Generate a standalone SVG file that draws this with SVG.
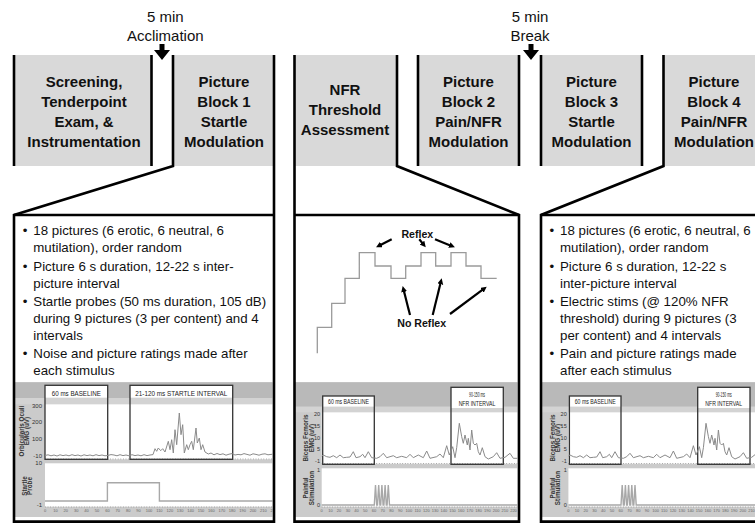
<svg xmlns="http://www.w3.org/2000/svg" xmlns:xlink="http://www.w3.org/1999/xlink" width="755" height="523" viewBox="0 0 755 523">
  <style>
    text { font-family: "Liberation Sans", Arial, sans-serif; fill: #111; }
    .hdr { font-size: 15px; text-anchor: middle; }
    .blk { font-size: 15px; font-weight: bold; text-anchor: middle; }
    .body { font-size: 13.3px; }
    .lbl { font-size: 10.6px; font-weight: bold; text-anchor: middle; }
    .block-fill { fill: #d9d9d9; }
    .bar { stroke: #000; stroke-width: 2.6; fill: none; }
    .frame { stroke: #000; stroke-width: 2.6; fill: none; stroke-linejoin: miter; }
    .stair { stroke: #9a9a9a; stroke-width: 1.3; fill: none; }
    .arr { stroke: #000; stroke-width: 2.2; fill: none; marker-end: url(#ah); }
    .bg { fill: #cbcbcb; }
    .band { fill: #b9b9b9; }
    .strip { fill: #d3d3d3; }
    .plot { fill: #fff; }
    .win { fill: none; stroke: #333; stroke-width: 1.3; }
    .wintop { fill: #fff; }
    .trace { fill: none; stroke: #8a8a8a; stroke-width: 1; stroke-linejoin: round; }
    .probe { fill: none; stroke: #a8a8a8; stroke-width: 1.4; }
    .ticks { stroke: #999; stroke-width: 1.2; stroke-dasharray: 0.8 1.8; }
    .ax { font-size: 6px; text-anchor: end; fill: #333; }
    .axs { font-size: 5.5px; text-anchor: end; fill: #333; }
    .yl { font-size: 6.3px; font-weight: bold; text-anchor: middle; fill: #333; }
    .xt { font-size: 4px; text-anchor: middle; fill: #666; }
    .wl { font-size: 6.5px; text-anchor: middle; fill: #222; }
  </style>
  <defs>
    <marker id="ah" markerUnits="userSpaceOnUse" markerWidth="7" markerHeight="7" refX="1" refY="3" orient="auto">
      <path d="M0,0 L6,3 L0,6 z" fill="#000"/>
    </marker>
    <clipPath id="clipL"><rect x="15" y="375" width="257.5" height="146"/></clipPath>
    <clipPath id="clipM"><rect x="295" y="375" width="222.5" height="146"/></clipPath>

    <!-- EMG / stimulation trace shared by the two pain panels -->
    <g id="nfrChart">
      <rect class="bg" x="295" y="382" width="223" height="135"/>
      <rect class="band" x="295" y="382.5" width="223" height="24.2"/>
      <rect class="strip" x="295" y="406.7" width="223" height="5.6"/>
      <rect class="plot" x="321.7" y="412.3" width="196" height="51.5"/>
      <rect class="plot" x="321.7" y="468.3" width="196" height="38.4"/>
      <line class="ticks" x1="321.7" y1="463.5" x2="517.5" y2="463.5"/>
      <line class="ticks" x1="321.7" y1="507" x2="517.5" y2="507"/>
      <!-- windows -->
      <rect class="wintop" x="322.7" y="396" width="51.6" height="10.7"/>
      <rect class="win" x="322.7" y="396" width="51.6" height="68.3"/>
      <text class="wl" x="348.5" y="404.4" textLength="41" lengthAdjust="spacingAndGlyphs">60 ms BASELINE</text>
      <rect class="wintop" x="451" y="387.3" width="52.3" height="20.7"/>
      <rect class="win" x="451" y="387.3" width="52.3" height="77"/>
      <text class="wl" x="477" y="397.2" textLength="16" lengthAdjust="spacingAndGlyphs">90-150 ms</text>
      <text class="wl" x="477" y="406.4" textLength="36.7" lengthAdjust="spacingAndGlyphs">NFR INTERVAL</text>
      <!-- axis labels -->
      <g transform="translate(308,438) rotate(-90)">
        <text class="yl" x="0" y="0">Biceps Femoris</text>
        <text class="yl" x="0" y="5.5">EMG (uV)</text>
      </g>
      <g transform="translate(308,488) rotate(-90)">
        <text class="yl" x="0" y="0">Painful</text>
        <text class="yl" x="0" y="5.5">Stimulation</text>
      </g>
      <text class="axs" x="320" y="416.3">20</text>
      <text class="axs" x="320" y="428">15</text>
      <text class="axs" x="320" y="439.5">10</text>
      <text class="axs" x="320" y="451">5</text>
      <text class="axs" x="320" y="463">-1</text>
      <text class="axs" x="320" y="472">1</text>
      <text class="axs" x="320" y="507">0</text>
      <g>
        <text class="xt" x="321.7" y="512">0</text>
        <text class="xt" x="330.4" y="512">10</text>
        <text class="xt" x="339.1" y="512">20</text>
        <text class="xt" x="347.9" y="512">30</text>
        <text class="xt" x="356.6" y="512">40</text>
        <text class="xt" x="365.3" y="512">50</text>
        <text class="xt" x="374.0" y="512">60</text>
        <text class="xt" x="382.7" y="512">70</text>
        <text class="xt" x="391.5" y="512">80</text>
        <text class="xt" x="400.2" y="512">90</text>
        <text class="xt" x="408.9" y="512">100</text>
        <text class="xt" x="417.6" y="512">110</text>
        <text class="xt" x="426.3" y="512">120</text>
        <text class="xt" x="435.1" y="512">130</text>
        <text class="xt" x="443.8" y="512">140</text>
        <text class="xt" x="452.5" y="512">150</text>
        <text class="xt" x="461.2" y="512">160</text>
        <text class="xt" x="469.9" y="512">170</text>
        <text class="xt" x="478.7" y="512">180</text>
        <text class="xt" x="487.4" y="512">190</text>
        <text class="xt" x="496.1" y="512">200</text>
        <text class="xt" x="504.8" y="512">210</text>
        <text class="xt" x="513.5" y="512">220</text>
      </g>
      <!-- EMG response -->
      <polyline class="trace" points="321.7,456 323.3,455 326.7,456.7 330,457.3 333.3,455.7 336.7,457.7 340,455 343.3,457.7 346.7,457.3 350,457 353.3,451.7 356,457.7 360,456.7 362.7,454.3 365,457.7 368.3,451.7 371.7,457.7 376.7,458.3 380,456.7 383.3,453.3 386.7,457.7 393.3,455.7 396.7,457.7 401.7,456.3 406.7,457.7 410,454.3 413.3,457.7 418.3,455 423.3,457.7 426.7,451 430,458.3 436.7,456.7 440,454 443.3,457.7 446.7,445.7 449.3,455 452.7,446.7 455,457.7 456.7,447.7 459.3,423.3 461.7,436.7 463.3,443.3 465,435 467.3,445 468.3,438.3 470,450 471.7,430 473.3,443.3 475,445 476.7,443.3 478.3,451.7 480,455 482.3,447.7 485,456.7 488.3,459 493.3,456.7 496.7,452.7 500,458.3 505,457.3 510,453.3 513.3,458.3 517.5,458.3"/>
      <!-- stimulus train -->
      <path class="probe" d="M321.7,505 H374.3 L375.5,485 L376.7,505 H377.5 L378.7,485 L379.9,505 H380.7 L381.9,485 L383.1,505 H383.9 L385.1,485 L386.3,505 H387.1 L388.3,485 L389.5,505 H517.5"/>
    </g>
  </defs>

  <!-- timeline labels with arrows -->
  <g id="acclimation">
    <text class="hdr" x="165.3" y="21.7">5 min</text>
    <text class="hdr" x="165.3" y="41">Acclimation</text>
    <polygon points="159.5,44 164.5,44 164.5,50 170,50 162,60 154,50 159.5,50" fill="#000"/>
  </g>
  <g id="break">
    <text class="hdr" x="530" y="21.7">5 min</text>
    <text class="hdr" x="530" y="41">Break</text>
    <polygon points="528.5,44 533.5,44 533.5,50 539,50 531,60 523,50 528.5,50" fill="#000"/>
  </g>

  <!-- session blocks -->
  <g id="block-screening">
    <rect class="block-fill" x="14" y="55" width="137.5" height="111"/>
    <line class="bar" x1="14" y1="55" x2="14" y2="166"/>
    <line class="bar" x1="151.5" y1="55" x2="151.5" y2="166"/>
    <text class="blk" x="84" y="87">Screening,</text>
    <text class="blk" x="84" y="107">Tenderpoint</text>
    <text class="blk" x="84" y="127">Exam, &amp;</text>
    <text class="blk" x="84" y="147">Instrumentation</text>
  </g>
  <g id="block-picture1">
    <rect class="block-fill" x="173" y="55" width="101" height="111"/>
    <text class="blk" x="224" y="87">Picture</text>
    <text class="blk" x="224" y="107">Block 1</text>
    <text class="blk" x="224" y="127">Startle</text>
    <text class="blk" x="224" y="147">Modulation</text>
  </g>
  <g id="block-nfr">
    <rect class="block-fill" x="294.5" y="55" width="102.5" height="111"/>
    <text class="blk" x="345" y="95">NFR</text>
    <text class="blk" x="345" y="115">Threshold</text>
    <text class="blk" x="345" y="135">Assessment</text>
  </g>
  <g id="block-picture2">
    <rect class="block-fill" x="418" y="55" width="101" height="111"/>
    <line class="bar" x1="418" y1="55" x2="418" y2="166"/>
    <line class="bar" x1="519" y1="55" x2="519" y2="166"/>
    <text class="blk" x="468.5" y="87">Picture</text>
    <text class="blk" x="468.5" y="107">Block 2</text>
    <text class="blk" x="468.5" y="127">Pain/NFR</text>
    <text class="blk" x="468.5" y="147">Modulation</text>
  </g>
  <g id="block-picture3">
    <rect class="block-fill" x="541" y="55" width="101" height="111"/>
    <line class="bar" x1="541" y1="55" x2="541" y2="166"/>
    <line class="bar" x1="642" y1="55" x2="642" y2="166"/>
    <text class="blk" x="591.5" y="87">Picture</text>
    <text class="blk" x="591.5" y="107">Block 3</text>
    <text class="blk" x="591.5" y="127">Startle</text>
    <text class="blk" x="591.5" y="147">Modulation</text>
  </g>
  <g id="block-picture4">
    <rect class="block-fill" x="663.5" y="55" width="95" height="111"/>
    <text class="blk" x="714" y="87">Picture</text>
    <text class="blk" x="714" y="107">Block 4</text>
    <text class="blk" x="714" y="127">Pain/NFR</text>
    <text class="blk" x="714" y="147">Modulation</text>
  </g>

  <!-- detail panel: startle block -->
  <g id="panel-startle">
    <text class="body" x="22.7" y="234.5">•</text>
    <text class="body" x="33.3" y="234.5">18 pictures (6 erotic, 6 neutral, 6</text>
    <text class="body" x="33.3" y="251.5">mutilation), order random</text>
    <text class="body" x="22.7" y="270.5">•</text>
    <text class="body" x="33.3" y="270.5">Picture 6 s duration, 12-22 s inter-</text>
    <text class="body" x="33.3" y="287.5">picture interval</text>
    <text class="body" x="22.7" y="305.5">•</text>
    <text class="body" x="33.3" y="305.5">Startle probes (50 ms duration, 105 dB)</text>
    <text class="body" x="33.3" y="322.5">during 9 pictures (3 per content) and 4</text>
    <text class="body" x="33.3" y="339.5">intervals</text>
    <text class="body" x="22.7" y="357.5">•</text>
    <text class="body" x="33.3" y="357.5">Noise and picture ratings made after</text>
    <text class="body" x="33.3" y="374.5">each stimulus</text>

    <g clip-path="url(#clipL)">
      <rect class="bg" x="15" y="382" width="258" height="135"/>
      <rect class="band" x="15" y="382.5" width="258" height="15.5"/>
      <rect class="strip" x="15" y="398" width="258" height="6.3"/>
      <rect class="plot" x="45" y="404.3" width="228" height="55"/>
      <rect class="plot" x="45" y="463.3" width="228" height="43.4"/>
      <line class="ticks" x1="45" y1="459" x2="273" y2="459"/>
      <line class="ticks" x1="45" y1="507" x2="273" y2="507"/>
      <rect class="wintop" x="45" y="385.3" width="62.7" height="12.5"/>
      <rect class="win" x="45" y="385.3" width="62.7" height="74"/>
      <text class="wl" x="76.3" y="395.6" textLength="49" lengthAdjust="spacingAndGlyphs">60 ms BASELINE</text>
      <rect class="wintop" x="130" y="385.3" width="102.7" height="12.5"/>
      <rect class="win" x="130" y="385.3" width="102.7" height="74"/>
      <text class="wl" x="181.3" y="395.6" textLength="92" lengthAdjust="spacingAndGlyphs">21-120 ms STARTLE INTERVAL</text>
      <g transform="translate(24,431) rotate(-90)">
        <text class="yl" x="0" y="0">Orbicularis Oculi</text>
        <text class="yl" x="0" y="5">EMG (uV)</text>
      </g>
      <g transform="translate(26.5,486) rotate(-90)">
        <text class="yl" x="0" y="0">Startle</text>
        <text class="yl" x="0" y="5">Probe</text>
      </g>
      <text class="ax" x="42" y="408.2">300</text>
      <text class="ax" x="42" y="424">200</text>
      <text class="ax" x="42" y="440.6">100</text>
      <text class="ax" x="42" y="458.4">-10</text>
      <text class="ax" x="42" y="465.2">10</text>
      <text class="ax" x="42" y="507">-1</text>
      <g>
        <text class="xt" x="45" y="512">0</text>
        <text class="xt" x="55.4" y="512">10</text>
        <text class="xt" x="65.8" y="512">20</text>
        <text class="xt" x="76.2" y="512">30</text>
        <text class="xt" x="86.6" y="512">40</text>
        <text class="xt" x="97" y="512">50</text>
        <text class="xt" x="107.4" y="512">60</text>
        <text class="xt" x="117.8" y="512">70</text>
        <text class="xt" x="128.2" y="512">80</text>
        <text class="xt" x="138.6" y="512">90</text>
        <text class="xt" x="149" y="512">100</text>
        <text class="xt" x="159.4" y="512">110</text>
        <text class="xt" x="169.8" y="512">120</text>
        <text class="xt" x="180.2" y="512">130</text>
        <text class="xt" x="190.6" y="512">140</text>
        <text class="xt" x="201" y="512">150</text>
        <text class="xt" x="211.4" y="512">160</text>
        <text class="xt" x="221.8" y="512">170</text>
        <text class="xt" x="232.2" y="512">180</text>
        <text class="xt" x="242.6" y="512">190</text>
        <text class="xt" x="253" y="512">200</text>
        <text class="xt" x="263.4" y="512">210</text>
        <text class="xt" x="273.8" y="512">220</text>
      </g>
      <polyline class="trace" points="45,455.5 48,454.8 51,455.8 54,455 57,456 60,454.8 63,455.6 66,455 69,455.8 72,454.7 75,455.6 78,455 81,456 84,454.8 87,455.6 90,455 93,455.8 96,454.7 99,455.6 102,455 105,455.8 108,455.4 111,454.6 114,455 117,455.8 120,454.7 123,455.6 126,455 129,455.8 132,454.7 135,455.6 138,455 141,455.8 144,454.7 147,455.6 150,455 153,454.6 155,448.7 156.7,451.3 158.3,448 160.7,450.7 162.7,448.7 165,452 168.3,441.3 170,449.7 171.7,439.7 173.3,453 175,429.7 176.7,444.7 179.3,413 181,434.7 182.7,424.7 184.3,453 186.7,444.7 188.3,449.7 190,444.7 191.7,441.3 193.3,449.7 196,428 197.3,443 199.3,438 201,449.7 202.7,444.7 205,452 208.3,454 211,453 214,454.8 217,453.5 220,454.6 223,453.8 226,455.2 229,454.2 232,453.6 235,455 238,454.4 241,454.8 244,453.6 247,454.4 250,455.2 253,453.8 256,454.4 259,455.2 262,454.2 265,453.8 268,454.8 272.5,454.2"/>
      <path class="probe" d="M45,501 H107.4 V482.7 H159.4 V501 H273"/>
    </g>
  </g>

  <!-- detail panel: threshold assessment -->
  <g id="panel-threshold">
    <path class="stair" d="M317.3,353.3 V327.3 H331.7 V303.3 H345 V278.3 H359.3 V252.7 H375 V266 H391 V278.3 H405.7 V266 H421 V252.7 H435.7 V266 H451 V252.7 H466 V266 H481 V278.3 H496.7"/>
    <text class="lbl" x="417.3" y="238">Reflex</text>
    <text class="lbl" x="421.7" y="326.5">No Reflex</text>
    <line class="arr" x1="391.7" y1="239.3" x2="380.5" y2="245"/>
    <line class="arr" x1="419.3" y1="239.3" x2="422.6" y2="243.4"/>
    <line class="arr" x1="435" y1="239.3" x2="450.3" y2="245.4"/>
    <line class="arr" x1="410" y1="315" x2="403.9" y2="290.9"/>
    <line class="arr" x1="432.7" y1="315" x2="440.5" y2="283.2"/>
    <line class="arr" x1="450" y1="314" x2="482.7" y2="289.7"/>
    <use xlink:href="#nfrChart" clip-path="url(#clipM)"/>
  </g>

  <!-- detail panel: pain/NFR block -->
  <g id="panel-pain">
    <text class="body" x="549.4" y="234.5">•</text>
    <text class="body" x="560" y="234.5">18 pictures (6 erotic, 6 neutral, 6</text>
    <text class="body" x="560" y="251.5">mutilation), order random</text>
    <text class="body" x="549.4" y="270.5">•</text>
    <text class="body" x="560" y="270.5">Picture 6 s duration, 12-22 s</text>
    <text class="body" x="560" y="287.5">inter-picture interval</text>
    <text class="body" x="549.4" y="305.5">•</text>
    <text class="body" x="560" y="305.5">Electric stims (@ 120% NFR</text>
    <text class="body" x="560" y="322.5">threshold) during 9 pictures (3</text>
    <text class="body" x="560" y="339.5">per content) and 4 intervals</text>
    <text class="body" x="549.4" y="357.5">•</text>
    <text class="body" x="560" y="357.5">Pain and picture ratings made</text>
    <text class="body" x="560" y="374.5">after each stimulus</text>
    <use xlink:href="#nfrChart" x="246.7"/>
  </g>

  <!-- connectors: block outlines fanning out into the detail panels -->
  <g id="connectors">
    <path class="frame" d="M173,55 V166 L14,215 V521.6 H274 V55"/>
    <line class="frame" x1="14" y1="215" x2="274" y2="215"/>
    <path class="frame" d="M294.5,55 V521.6 H519 V215 L397,166 V55"/>
    <line class="frame" x1="294.5" y1="215" x2="519" y2="215"/>
    <path class="frame" d="M663.5,55 V166 L541,215 V521.6 H760"/>
    <line class="frame" x1="541" y1="215" x2="760" y2="215"/>
  </g>
</svg>
